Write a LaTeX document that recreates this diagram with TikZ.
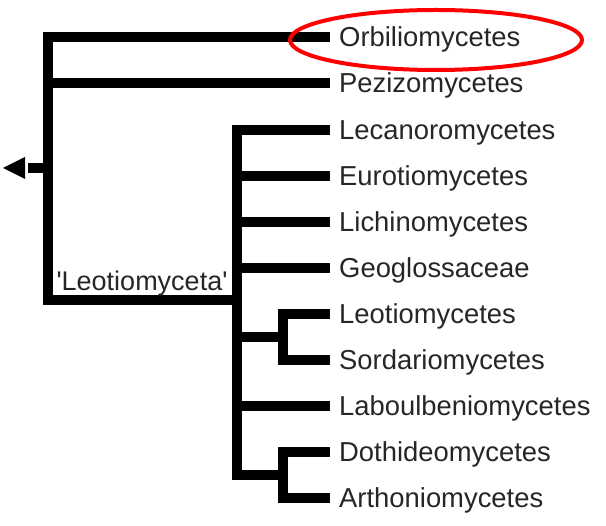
\documentclass[tikz,border=0pt]{standalone}
\usepackage{fontspec}
\setmainfont{Liberation Sans}
\begin{document}
\begin{tikzpicture}[x=1pt,y=-1pt,
 br/.style={line width=10pt, line join=miter, line cap=butt},
 leaf/.style={anchor=base west, inner sep=0pt, font=\fontsize{27.4}{30}\selectfont, text=black!85},
 clade/.style={anchor=base, inner sep=0pt, font=\fontsize{27}{30}\selectfont, text=black!85},
 hilite/.style={draw=red, line width=4pt},
]
\useasboundingbox (0,0) rectangle (606,526);
% leaf tips and labels
\foreach \n/\y/\t in {tO/37/Orbiliomycetes, tP/83/Pezizomycetes, tLec/130/Lecanoromycetes,
  tEur/176/Eurotiomycetes, tLic/222/Lichinomycetes, tGeo/268/Geoglossaceae,
  tLeo/314/Leotiomycetes, tSor/360/Sordariomycetes, tLab/406/Laboulbeniomycetes,
  tDot/452/Dothideomycetes, tArt/498/Arthoniomycetes}{
  \coordinate (\n) at (330,\y);
  \node[leaf] (l\n) at (339,\y+9.6) {\t};
}
% internal nodes
\coordinate (R) at (48,168);
\coordinate (Lt) at (237,300);
\coordinate (A) at (283,337);
\coordinate (B) at (283,475);
\coordinate (stem) at (28,168);
% root clade
\draw[br] (tO) -| (R) |- (Lt);
\draw[br] (tP) -- (tP -| R);
\draw[br] (R) -- (stem);
\fill (3,168) -- (25,157) -- (25,179) -- cycle;
% Leotiomyceta
\draw[br] (tLec) -| (Lt) |- (B);
\foreach \n in {tEur,tLic,tGeo,tLab}{\draw[br] (\n) -- (\n -| Lt);}
\draw[br] (A) -- (A -| Lt);
\draw[br] (tLeo) -| (A) |- (tSor);
\draw[br] (tDot) -| (B) |- (tArt);
\node[clade] (leo) at (142,291) {\textquotesingle Leotiomyceta\textquotesingle};
% highlight
\draw[hilite] (436,40) ellipse [x radius=146, y radius=30];
\end{tikzpicture}
\end{document}
